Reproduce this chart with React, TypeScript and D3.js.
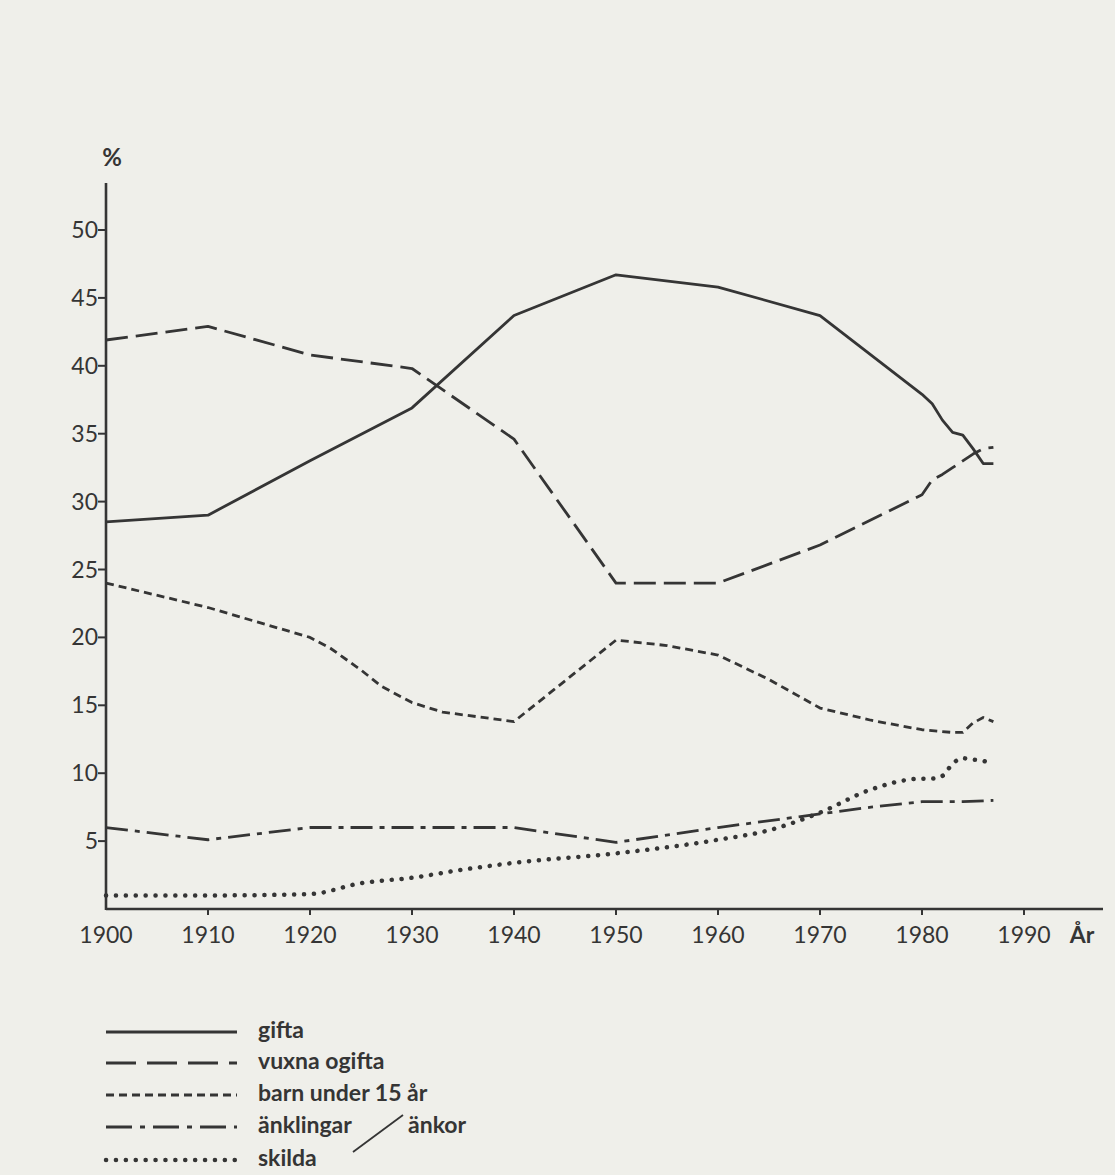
import React from "react";
import * as d3 from "d3";

// ---- data (percent of population by civil status) ----
const giftaYears = [1900, 1910, 1920, 1930, 1940, 1950, 1960, 1970, 1980, 1981, 1982, 1983, 1984, 1985, 1986, 1987];
const giftaValues = [28.5, 29.0, 33.0, 36.9, 43.7, 46.7, 45.8, 43.7, 37.9, 37.2, 36.0, 35.1, 34.9, 33.9, 32.8, 32.8];

const ogiftaYears = [1900, 1910, 1920, 1930, 1940, 1950, 1960, 1970, 1980, 1981, 1982, 1983, 1984, 1985, 1986, 1987];
const ogiftaValues = [41.9, 42.9, 40.8, 39.8, 34.6, 24.0, 24.0, 26.8, 30.5, 31.6, 32.0, 32.5, 33.0, 33.5, 33.9, 34.0];

const barnYears = [1900, 1910, 1920, 1922, 1925, 1927, 1930, 1933, 1940, 1950, 1955, 1960, 1965, 1970, 1975, 1980, 1983, 1984, 1985, 1986, 1987];
const barnValues = [24.0, 22.2, 20.0, 19.2, 17.6, 16.4, 15.2, 14.5, 13.8, 19.8, 19.4, 18.7, 16.9, 14.8, 13.9, 13.2, 13.0, 13.0, 13.7, 14.1, 13.8];

const ankYears = [1900, 1910, 1920, 1930, 1940, 1950, 1960, 1970, 1975, 1980, 1984, 1987];
const ankValues = [6.0, 5.1, 6.0, 6.0, 6.0, 4.9, 6.0, 7.0, 7.5, 7.9, 7.9, 8.0];

const skildaYears = [1900, 1910, 1920, 1925, 1930, 1935, 1940, 1950, 1960, 1965, 1970, 1975, 1980, 1981, 1982, 1983, 1984, 1985, 1986, 1987];
const skildaValues = [1.0, 1.0, 1.1, 1.9, 2.3, 2.9, 3.4, 4.1, 5.1, 5.8, 7.1, 8.8, 9.6, 9.6, 9.8, 10.7, 11.1, 11.0, 10.9, 10.7];

const xTicks = [1900, 1910, 1920, 1930, 1940, 1950, 1960, 1970, 1980, 1990];
const yTicks = [5, 10, 15, 20, 25, 30, 35, 40, 45, 50];

const legendLabels = ["gifta", "vuxna ogifta", "barn under 15 år", "änklingar", "skilda"];

const INK = "#353535";
const FONT = "Lato, 'DejaVu Sans', sans-serif";

export default function App() {
  const W = 1115;
  const H = 1175;
  const x = d3.scaleLinear().domain([1900, 1990]).range([106, 1024]);
  const y = d3.scaleLinear().domain([0, 50]).range([909, 230]);

  const mk = (ys: number[], vs: number[], curve: any = d3.curveLinear) =>
    d3
      .line<number>()
      .x((_, i) => x(ys[i]))
      .y((v) => y(v))
      .curve(curve)(vs) as string;

  const series = [
    { d: mk(giftaYears, giftaValues), dash: "none", cap: "butt" },
    { d: mk(ogiftaYears, ogiftaValues), dash: "22 8", cap: "butt" },
    { d: mk(barnYears, barnValues), dash: "8 5", cap: "butt" },
    { d: mk(ankYears, ankValues), dash: "22 7 5 7", cap: "butt" },
    { d: mk(skildaYears, skildaValues, d3.curveMonotoneX), dash: "0.1 9.8", cap: "round", width: 4.5 },
  ];

  const legendBaselines = [1038, 1069, 1101, 1133, 1166];
  const legendX0 = 106;
  const legendX1 = 237;

  const xAxisEnd = 1103;
  const yAxisTop = 183;
  const x0 = x(1900);
  const y0 = y(0);

  return (
    <svg width={W} height={H} style={{ position: "absolute", left: 0, top: 0 }} fontFamily={FONT}>
      <rect x={0} y={0} width={W} height={H} fill="#efefea" />

      {/* axes */}
      <line x1={x0} y1={yAxisTop} x2={x0} y2={y0 + 1} stroke={INK} strokeWidth={2.6} />
      <line x1={x0} y1={y0} x2={xAxisEnd} y2={y0} stroke={INK} strokeWidth={2.6} />

      {yTicks.map((t) => (
        <g key={"y" + t}>
          <line x1={x0 - 8} x2={x0} y1={y(t)} y2={y(t)} stroke={INK} strokeWidth={2} />
          <text x={x0 - 8} y={y(t) + 8} textAnchor="end" fontSize={23} fill={INK}>
            {t}
          </text>
        </g>
      ))}
      <text x={112} y={166} textAnchor="middle" fontSize={24} fontWeight={700} fill={INK}>
        %
      </text>

      {xTicks.map((t) => (
        <g key={"x" + t}>
          {t !== 1900 && <line x1={x(t)} x2={x(t)} y1={y0} y2={y0 + 6} stroke={INK} strokeWidth={2} />}
          <text x={x(t)} y={943} textAnchor="middle" fontSize={23} fill={INK}>
            {t}
          </text>
        </g>
      ))}
      <text x={1082} y={943} textAnchor="middle" fontSize={23} fontWeight={700} fill={INK}>
        År
      </text>

      {/* data lines */}
      {series.map((s, i) => (
        <path
          key={"s" + i}
          d={s.d}
          fill="none"
          stroke={INK}
          strokeWidth={s.width ?? 2.8}
          strokeDasharray={s.dash}
          strokeLinecap={s.cap as any}
          strokeLinejoin="round"
        />
      ))}

      {/* legend */}
      {legendLabels.map((lab, i) => {
        const by = legendBaselines[i];
        const ly = by - 6;
        const s = series[i];
        return (
          <g key={"l" + i}>
            <line
              x1={legendX0}
              x2={legendX1}
              y1={ly}
              y2={ly}
              stroke={INK}
              strokeWidth={s.width ?? 3}
              strokeDasharray={i === 1 ? "30 11" : i === 3 ? "26 8 5 8" : s.dash}
              strokeLinecap={s.cap as any}
            />
            <text x={258} y={by} fontSize={23} fontWeight={700} fill={INK}>
              {lab}
            </text>
          </g>
        );
      })}
      <line x1={353} y1={1152} x2={403} y2={1115} stroke={INK} strokeWidth={1.8} />
      <text x={408} y={1133} fontSize={23} fontWeight={700} fill={INK}>
        änkor
      </text>
    </svg>
  );
}
